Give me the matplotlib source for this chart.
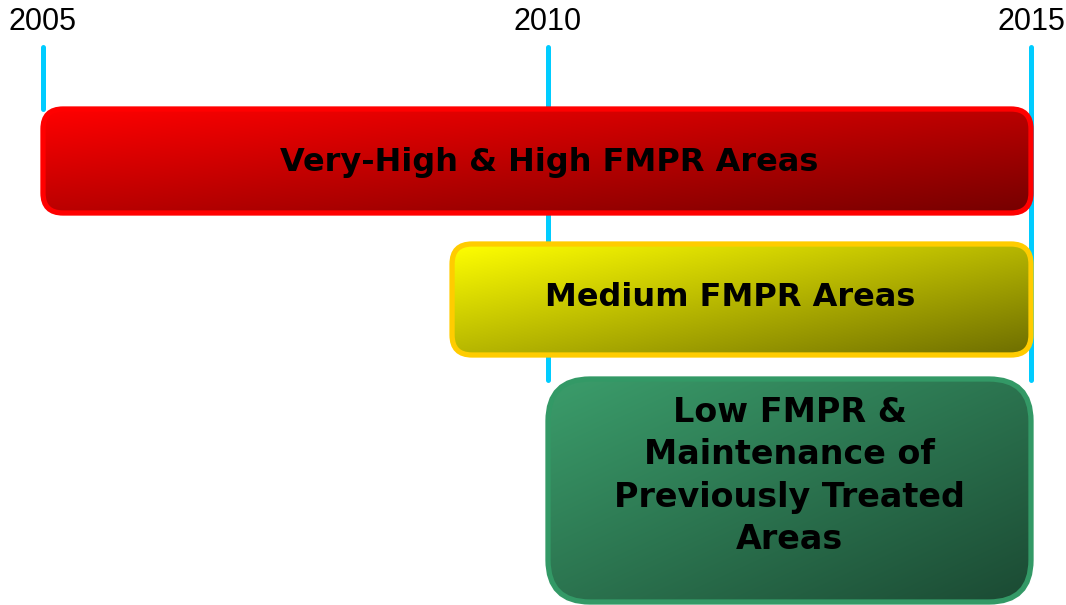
import numpy as np
import matplotlib
matplotlib.use("Agg")
import matplotlib.pyplot as plt
from matplotlib.patches import FancyBboxPatch
from matplotlib.colors import to_rgb

# timeline data
years = [2005, 2010, 2015]
labels = ["Very-High & High FMPR Areas",
          "Medium FMPR Areas",
          "Low FMPR &\nMaintenance of\nPreviously Treated\nAreas"]
starts = [2005, 2009.05, 2010]
ends = [2015, 2015, 2015]

# styling per bar: (light, dark, edge)
styles = [("#ff0000", "#760000", "#ff0000"),
          ("#ffff00", "#6e6e00", "#ffcc00"),
          ("#3b9d6b", "#1b4a33", "#339966")]
rows = [(109, 213), (244, 355), (379, 602)]   # top/bottom in pixels
radius = [20, 20, 42]
label_y = [163, 298, 476]
label_dx = [12, -11, 0]      # small pixel nudges of the labels
label_size = [23, 23, 24]
label_spacing = [1.1, 1.1, 1.37]
line_ends = [109, 380, 380]

W, H = 1066, 605
fig = plt.figure(figsize=(W / 100, H / 100), dpi=100)
ax = fig.add_axes([0, 0, 1, 1])
ax.axis("off")

# the timeline in the original is not quite linear: 2005-2010 is wider
ppy1, ppy2 = 101.0, 96.6


def fwd(x):
    x = np.asarray(x, dtype=float)
    return np.where(x < 2010, (x - 2005) * ppy1, 505 + (x - 2010) * ppy2)


def inv(p):
    p = np.asarray(p, dtype=float)
    return np.where(p < 505, 2005 + p / ppy1, 2010 + (p - 505) / ppy2)


ax.set_xscale("function", functions=(fwd, inv))

plt.rcParams["font.family"] = ["Liberation Sans", "DejaVu Sans"]

# year ticks
for yr, yend in zip(years, line_ends):
    ax.plot([yr, yr], [47, yend], color="#00ccff", lw=3.6,
            solid_capstyle="round", zorder=1)
    ax.text(yr, 22, str(yr), ha="center", va="center", fontsize=22,
            color="black")


def gradient(c1, c2, n=200, m=60):
    u = np.linspace(0, 1, n)[None, :]
    v = np.linspace(0, 1, m)[:, None]
    t = 0.5 * u + 0.5 * v
    a = np.array(to_rgb(c1))
    b = np.array(to_rgb(c2))
    return a + (b - a) * t[..., None]


x_lo = inv(-43)
x_hi = inv(W - 43)
ax.set_xlim(x_lo, x_hi)
ax.set_ylim(H, 0)

for i, (s, e, lab) in enumerate(zip(starts, ends, labels)):
    c1, c2, ec = styles[i]
    top, bot = rows[i]
    r = radius[i]
    # boxes are drawn in display pixels so the corners stay round
    p0 = ax.transData.transform((s, bot))
    p1 = ax.transData.transform((e, top))
    box = FancyBboxPatch(tuple(p0), p1[0] - p0[0], p1[1] - p0[1],
                         boxstyle="round,pad=0,rounding_size=%f" % r,
                         facecolor="none", edgecolor=ec, lw=3.8,
                         transform=None, zorder=4)
    ax.add_patch(box)
    clip = FancyBboxPatch(tuple(p0), p1[0] - p0[0], p1[1] - p0[1],
                          boxstyle="round,pad=0,rounding_size=%f" % r,
                          facecolor="none", edgecolor="none",
                          transform=None)
    ax.add_patch(clip)
    im = ax.imshow(gradient(c1, c2), extent=(s, e, bot, top),
                   origin="upper", aspect="auto", zorder=3,
                   interpolation="bilinear")
    im.set_clip_path(clip)
    cx = inv((fwd(s) + fwd(e)) / 2 + label_dx[i])
    ax.text(cx, label_y[i], lab, ha="center", va="center",
            fontsize=label_size[i], fontweight="bold", family="DejaVu Sans",
            color="black", zorder=5, linespacing=label_spacing[i])

ax.set_xlim(x_lo, x_hi)
ax.set_ylim(H, 0)

fig.savefig("out.png", dpi=100)
